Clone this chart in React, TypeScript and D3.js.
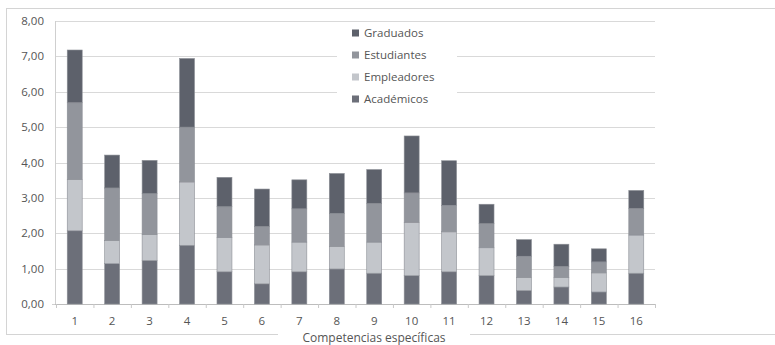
import React from "react";
import * as d3 from "d3";

const categories = ["1","2","3","4","5","6","7","8","9","10","11","12","13","14","15","16"];
const seriesNames = ["Académicos", "Empleadores", "Estudiantes", "Graduados"];
const academicos = [2.07,1.14,1.23,1.66,0.91,0.57,0.91,0.99,0.87,0.80,0.91,0.80,0.38,0.48,0.34,0.87];
const empleadores = [1.45,0.66,0.73,1.79,0.97,1.10,0.84,0.64,0.88,1.51,1.13,0.79,0.37,0.27,0.54,1.08];
const estudiantes = [2.17,1.48,1.16,1.55,0.87,0.52,0.94,0.93,1.09,0.83,0.75,0.68,0.60,0.31,0.31,0.75];
const graduados = [1.49,0.93,0.94,1.94,0.83,1.06,0.82,1.13,0.96,1.61,1.26,0.55,0.47,0.63,0.37,0.51];
const yTicks = [0,1,2,3,4,5,6,7,8];
const colors = ["#6c6f79", "#c3c6cb", "#92959c", "#5d616b"];
const xTitle = "Competencias específicas";

const W = 775, H = 345;
const font = "'Open Sans', 'Noto Sans', sans-serif";

export default function App() {
  const x = d3.scaleBand().domain(categories).range([56, 655]).paddingInner(0.6).paddingOuter(0.3);
  const y = d3.scaleLinear().domain([0, 8]).range([304, 21]);
  const data = categories.map((c, i) => ({
    cat: c,
    "Académicos": academicos[i],
    "Empleadores": empleadores[i],
    "Estudiantes": estudiantes[i],
    "Graduados": graduados[i],
  }));
  const stacked = d3.stack<any>().keys(seriesNames)(data);
  const step = x.step();
  const x0 = x.range()[0];
  const legendOrder = [3, 2, 1, 0];
  const fmt = (v: number) => v.toFixed(2).replace(".", ",");

  return (
    <svg width={W} height={H} style={{ position: "absolute", left: 0, top: 0, background: "#fff" }} fontFamily={font}>
      <rect x={6.5} y={8.5} width={W + 10} height={326} fill="#fff" stroke="#d4d4d4" strokeWidth={1} />
      {yTicks.map((t) => (
        <g key={t}>
          <line x1={55} x2={655} y1={Math.round(y(t)) + 0.5} y2={Math.round(y(t)) + 0.5} stroke="#d9d9d9" strokeWidth={1} />
          <text x={44} y={y(t)} dy="0.35em" textAnchor="end" fontSize={11.5} fill="#555">{fmt(t)}</text>
        </g>
      ))}
      <line x1={55.5} x2={55.5} y1={21} y2={304} stroke="#cfcfcf" />
      <line x1={52} x2={56} y1={304.5} y2={304.5} stroke="#cfcfcf" />
      <line x1={55} x2={655} y1={304.5} y2={304.5} stroke="#bdbdbd" />
      {d3.range(categories.length + 1).map((i) => (
        <line key={i} x1={x0 + i * step + 0.5} x2={x0 + i * step + 0.5} y1={304} y2={308} stroke="#c8c8c8" />
      ))}
      {stacked.map((s, si) => (
        <g key={s.key} fill={colors[si]}>
          {s.map((d: any, i: number) => (
            <rect key={i} x={x(categories[i])} width={x.bandwidth()} y={y(d[1])} height={y(d[0]) - y(d[1])}
              stroke="#8c8f96" strokeWidth={0.6} />
          ))}
        </g>
      ))}
      {categories.map((c) => (
        <text key={c} x={(x(c) as number) + x.bandwidth() / 2} y={321} dy="0.35em" textAnchor="middle" fontSize={11.5} fill="#555">{c}</text>
      ))}
      <rect x={337} y={24} width={120} height={86} fill="#fff" />
      {legendOrder.map((si, k) => (
        <g key={si} transform={`translate(352, ${33 + k * 22})`}>
          <rect x={0} y={-3.5} width={7} height={7} fill={colors[si]} />
          <text x={12} y={0} dy="0.35em" fontSize={11.5} fill="#555">{seriesNames[si]}</text>
        </g>
      ))}
      <rect x={278} y={330} width={192} height={15} fill="#fff" />
      <text x={374} y={337.5} dy="0.35em" textAnchor="middle" fontSize={12} fill="#555">{xTitle}</text>
    </svg>
  );
}
